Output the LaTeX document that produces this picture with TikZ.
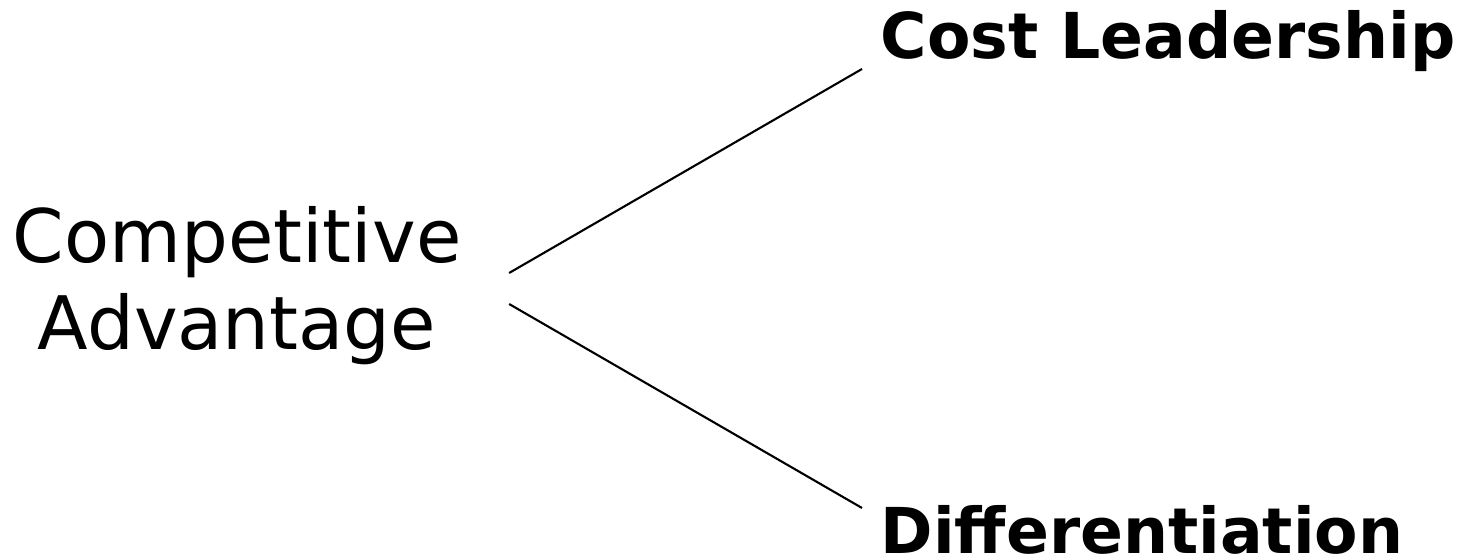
\documentclass[tikz,border=0pt]{standalone}
\usepackage{fontspec}
\setmainfont{DejaVu Sans}
\begin{document}
\begin{tikzpicture}[
  root/.style={inner sep=0pt,align=center,font=\fontsize{21}{25}\selectfont},
  strategy/.style={inner sep=0pt,anchor=base west,font=\fontsize{18}{22}\selectfont\bfseries}]
\useasboundingbox (0,0) rectangle (14.61,5.58);
\node[root,anchor=base] (comp) at (2.37,2.08) {Competitive\\Advantage};
\node[strategy] (cost) at (8.80,4.99) {Cost Leadership};
\node[strategy] (diff) at (8.80,0.04) {Differentiation};
\path[draw,line width=0.6pt,-] ([xshift=4.7mm,yshift=7.7mm]comp.base east) -- ([xshift=-1.8mm,yshift=-1mm]cost.base west);
\path[draw,line width=0.6pt,-] ([xshift=4.7mm,yshift=4.6mm]comp.base east) -- ([xshift=-1.8mm,yshift=4.6mm]diff.base west);
\end{tikzpicture}
\end{document}
